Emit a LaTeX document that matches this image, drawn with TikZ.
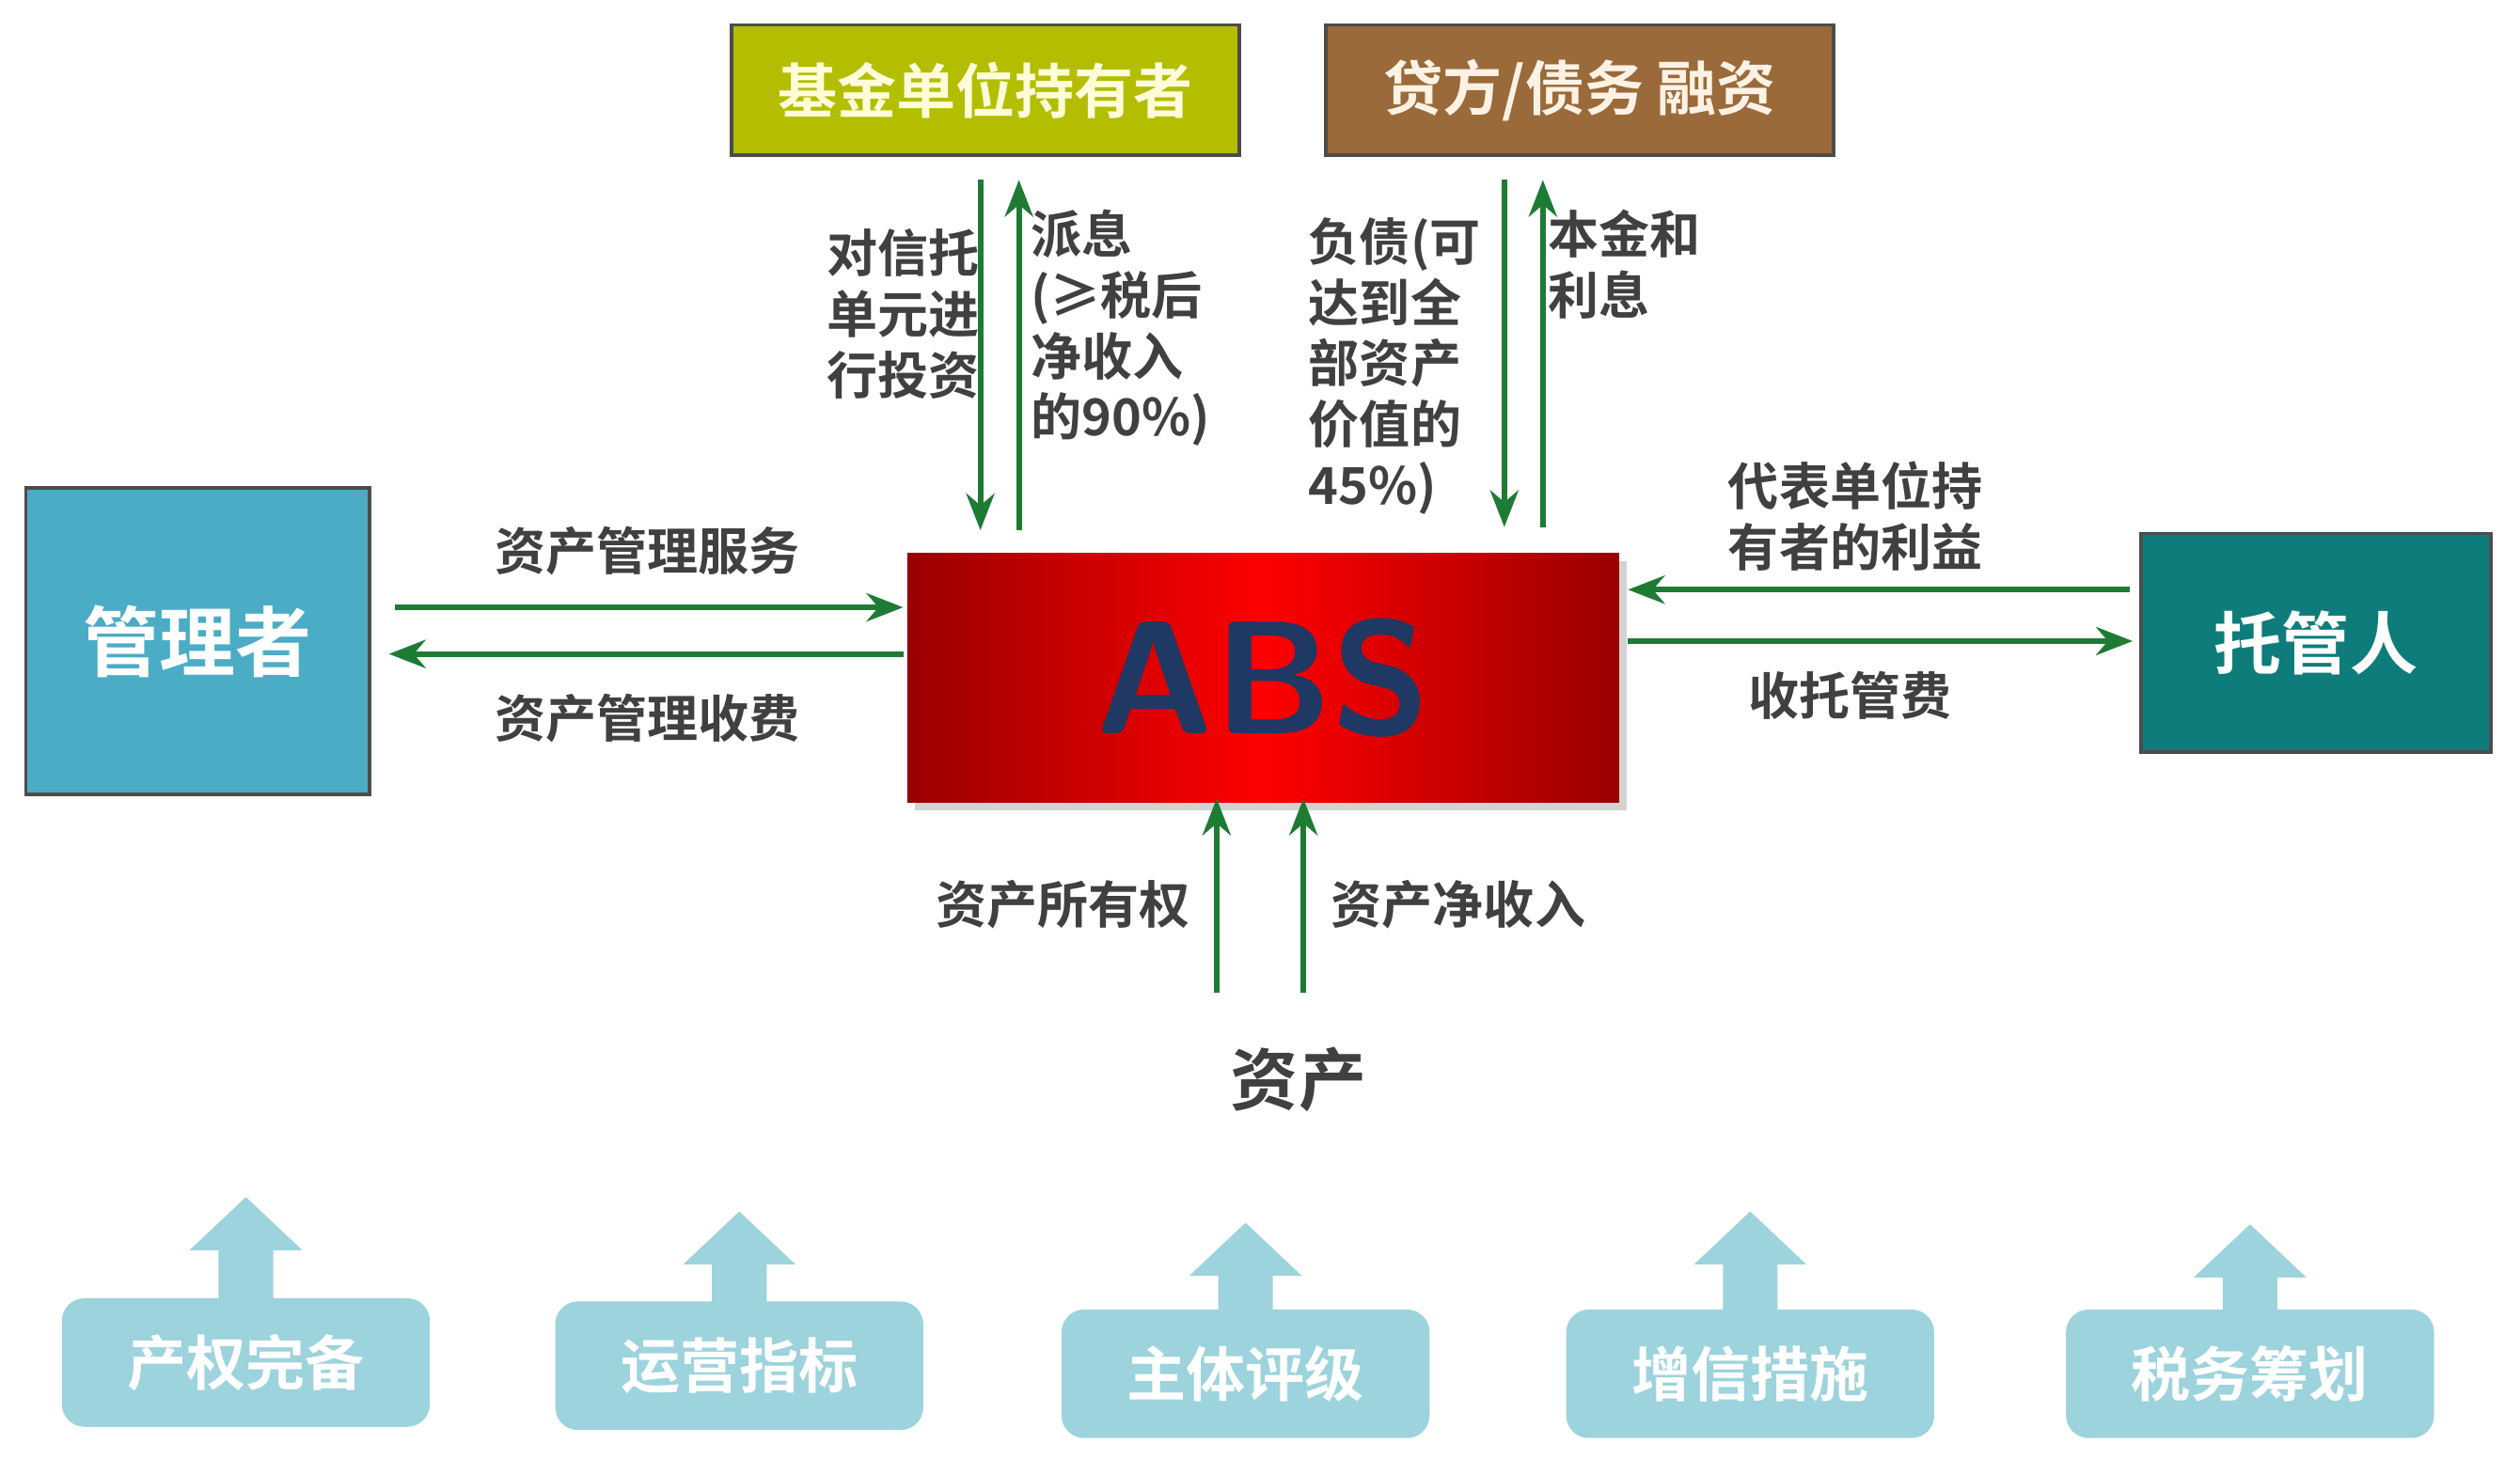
\documentclass[tikz,border=0pt]{standalone}
\usepackage{fontspec}
\setmainfont{Noto Sans CJK SC Bold}
\usepackage{tikz}
\usetikzlibrary{shadows,arrows.meta}
\definecolor{flowgreen}{HTML}{1E7B34}
\definecolor{labelgray}{HTML}{404040}
\definecolor{topyellow}{HTML}{B4BE00}
\definecolor{topbrown}{HTML}{9A6A3A}
\definecolor{mgrblue}{HTML}{4BACC6}
\definecolor{trustteal}{HTML}{0E7C7B}
\definecolor{pale}{HTML}{9DD3DC}
\definecolor{absblue}{HTML}{1F3864}
\begin{document}
\begin{tikzpicture}[x=0.02cm,y=-0.02cm]
\tikzstyle{party}=[draw=black!70,line width=1.2pt,inner sep=0pt,text=white]
\tikzstyle{flow} = [draw=flowgreen,line width=2pt,-{Stealth[length=13pt,width=10pt]}]
\tikzstyle{label} = [text=labelgray,inner sep=0pt,align=left,font=\fontsize{18}{21.6}\selectfont]
\tikzstyle{factor} = [fill=pale,rounded corners=8pt,minimum width=4.58cm,minimum height=1.6cm,text=white,font=\fontsize{21}{24}\selectfont]
\useasboundingbox (0,0) rectangle (1568,908);
% top parties
\node[party,fill=topyellow,minimum width=6.32cm,minimum height=1.62cm,text=white!85!yellow,font=\fontsize{21}{24}\selectfont] (fund) at (613,56) {基金单位持有者};
\node[party,fill=topbrown,minimum width=6.32cm,minimum height=1.62cm,text=white!90!orange,font=\fontsize{21}{24}\selectfont] (debt) at (983,56) {贷方/债务 融资};
% side parties
\node[party,fill=mgrblue,minimum width=4.28cm,minimum height=3.82cm,font=\fontsize{27}{30}\selectfont] (mgr) at (123,399) {管理者};
\node[party,fill=trustteal,minimum width=4.36cm,minimum height=2.72cm,font=\fontsize{24}{28}\selectfont] (trust) at (1441,400) {托管人};
% centre
\node[left color=red!60!black,right color=red!60!black,middle color=red,minimum width=8.86cm,minimum height=3.1cm,inner sep=0pt,drop shadow={opacity=0.35},text=absblue,font=\fontsize{57}{60}\selectfont\sffamily\bfseries] (abs) at (786,422) {ABS};
\node[text=labelgray,font=\fontsize{24}{28}\selectfont] (asset) at (808,672) {资产};
% connector ends
\coordinate (f1) at (610,112); \coordinate (f2) at (610,330);
\coordinate (f3) at (634,330); \coordinate (f4) at (634,112);
\coordinate (d1) at (936,112); \coordinate (d2) at (936,328);
\coordinate (d3) at (960,328); \coordinate (d4) at (960,112);
\coordinate (m1) at (246,378); \coordinate (m2) at (562,378);
\coordinate (m3) at (562,407); \coordinate (m4) at (242,407);
\coordinate (t1) at (1325,367); \coordinate (t2) at (1013,367);
\coordinate (t3) at (1013,399); \coordinate (t4) at (1327,399);
\coordinate (a1) at (757,618); \coordinate (a2) at (757,497);
\coordinate (a3) at (811,618); \coordinate (a4) at (811,497);
\path[flow] (f1) -- (f2);
\path[flow] (f3) -- (f4);
\path[flow] (d1) -- (d2);
\path[flow] (d3) -- (d4);
\path[flow] (m1) -- (m2);
\path[flow] (m3) -- (m4);
\path[flow] (t1) -- (t2);
\path[flow] (t3) -- (t4);
\path[flow] (a1) -- (a2);
\path[flow] (a3) -- (a4);
% labels
\node[label,anchor=north west] (l1) at (514,142) {对信托\\单元进\\行投资};
\node[label,anchor=north west] (l2) at (641,130) {派息\\(≥税后\\净收入\\的90\%)};
\node[label,anchor=north west] (l3) at (814,135) {负债(可\\达到全\\部资产\\价值的\\45\%)};
\node[label,anchor=north west] (l4) at (963,130) {本金和\\利息};
\node[label] (l5) at (403,343) {资产管理服务};
\node[label] (l6) at (403,447) {资产管理收费};
\node[label,anchor=north west] (l7) at (1075,287) {代表单位持\\有者的利益};
\node[label] (l8) at (1151,433) {收托管费};
\node[label,anchor=east] (l9) at (741,563) {资产所有权};
\node[label,anchor=west] (l10) at (828,563) {资产净收入};
% factors
\foreach \cx/\ty/\by/\txt in {153/745/808/产权完备,460/754/810/运营指标,775/761/815/主体评级,1089/754/815/增信措施,1400/762/815/税务筹划}{
  \fill[pale] (\cx-17,\by+2) -- (\cx-17,\ty+33) -- (\cx-35,\ty+33) -- (\cx,\ty) -- (\cx+35,\ty+33) -- (\cx+17,\ty+33) -- (\cx+17,\by+2) -- cycle;
  \node[factor] (fac\cx) at (\cx,\by+40) {\txt};
}
\end{tikzpicture}
\end{document}
